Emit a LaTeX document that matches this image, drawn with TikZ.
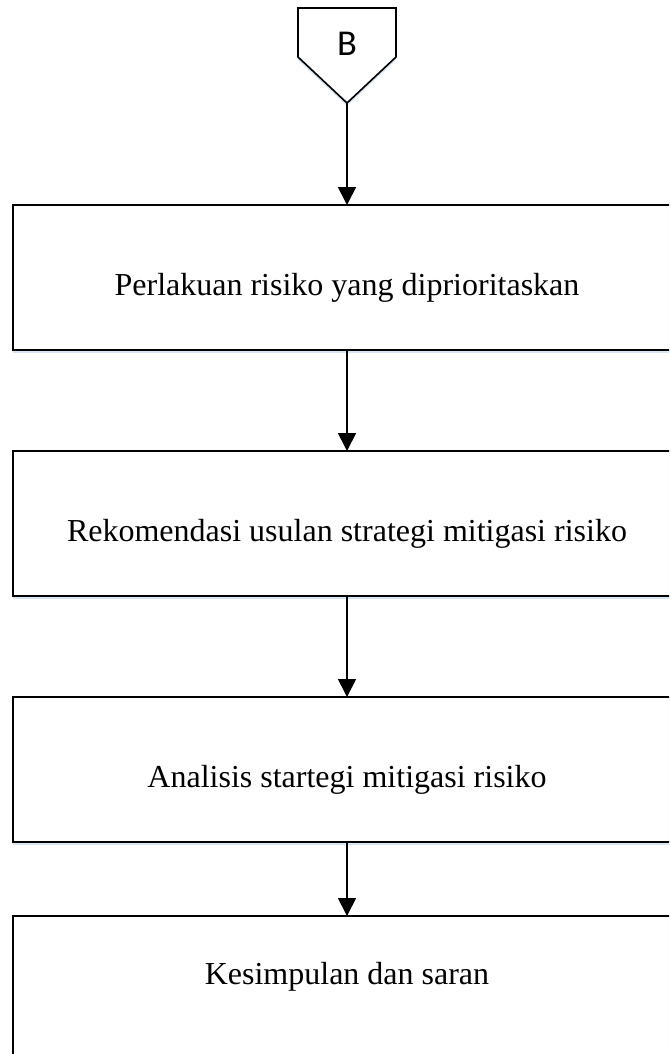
\documentclass[tikz,border=0pt]{standalone}
\usepackage{fontspec}
\setmainfont{Liberation Serif}
\newfontfamily\calibrifont{Carlito}
\usepackage{tikz}
\usetikzlibrary{arrows.meta, positioning, shadows}
\usepackage{xcolor}
\definecolor{glow}{HTML}{D3E1F3}
\tikzset{
  stepbox/.style={rectangle, draw=black, line width=1.6pt, fill=white,
                  minimum width=668pt, minimum height=145pt,
                  inner sep=0pt, outer sep=0pt,
                  text height=42pt, text depth=7pt,
                  font=\fontsize{32}{38}\selectfont,
                  drop shadow={shadow xshift=0pt, shadow yshift=-3pt,
                               fill=glow, opacity=0.9}},
  offpage/.style={draw=black, line width=1.6pt, fill=white,
                  line join=miter,
                  drop shadow={shadow xshift=0pt, shadow yshift=-3pt,
                               fill=glow, opacity=0.9}},
  connlabel/.style={inner sep=0pt, font=\fontsize{28}{32}\selectfont\calibrifont},
  arrow/.style={-{Triangle[length=18pt, width=18pt]}, line width=1.7pt},
}

\begin{document}
\begin{tikzpicture}[x=1pt, y=-1pt]

  \useasboundingbox (0,0) rectangle (669,1054);
  \clip (0,0) rectangle (669,1054);

  % off-page connector
  \draw[offpage] (298,8) -- (396,8) -- (396,57) -- (347,103) -- (298,57) -- cycle;
  \node[connlabel, scale=1.3] (B) at (347,44) {B};
  \coordinate (Btip) at (347,103);

  \node[stepbox] (prio) at (347,277.5) {Perlakuan risiko yang diprioritaskan};
  \node[stepbox, below=101pt of prio] (rekom) {Rekomendasi usulan strategi mitigasi risiko};
  \node[stepbox, below=101pt of rekom] (analisis) {Analisis startegi mitigasi risiko};
  \node[stepbox, below=74pt of analisis, text height=22pt, text depth=31pt] (simpul) {Kesimpulan dan saran};

  \draw[arrow] (Btip) -- (prio);
  \draw[arrow] (prio) -- (rekom);
  \draw[arrow] (rekom) -- (analisis);
  \draw[arrow] (analisis) -- (simpul);

\end{tikzpicture}
\end{document}
